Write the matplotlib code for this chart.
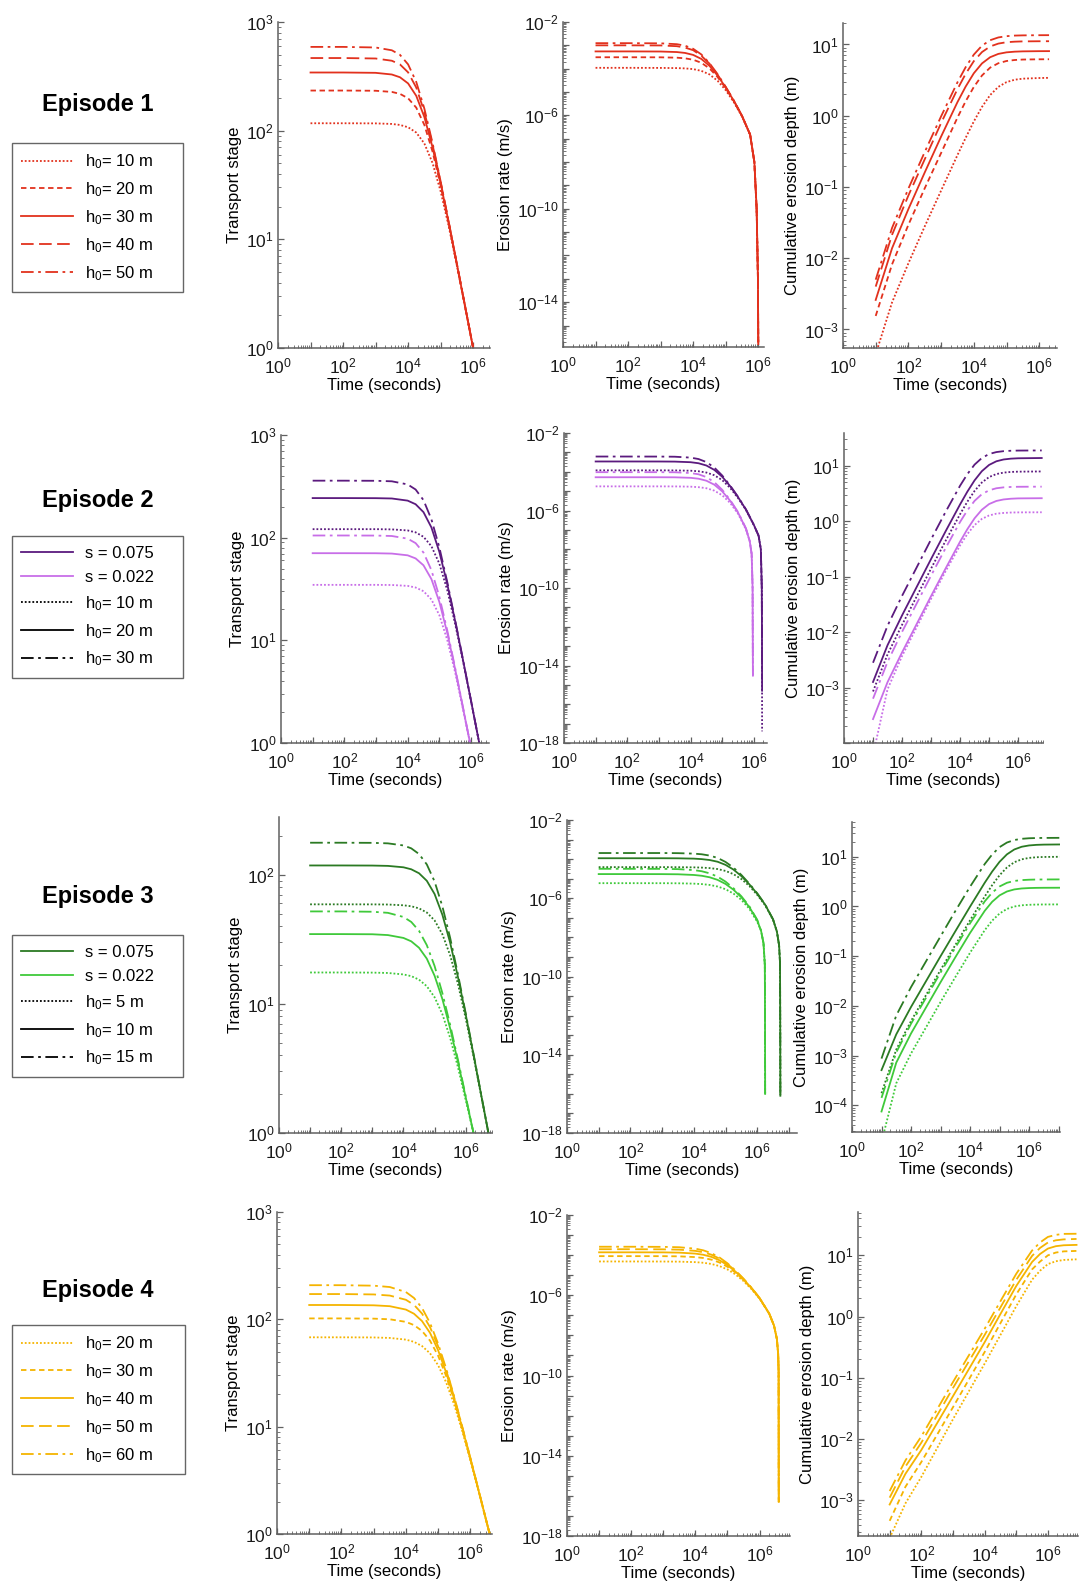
import numpy as np
import matplotlib
matplotlib.use("Agg")
import matplotlib.pyplot as plt
from matplotlib.ticker import FixedLocator, LogLocator, FuncFormatter, NullFormatter
from matplotlib.lines import Line2D

plt.rcParams["font.family"] = ["Liberation Sans", "DejaVu Sans"]
plt.rcParams["mathtext.fontset"] = "custom"
plt.rcParams["mathtext.rm"] = "Liberation Sans"
plt.rcParams["mathtext.it"] = "Liberation Sans:italic"
plt.rcParams["mathtext.bf"] = "Liberation Sans:bold"

# ================= Episode 1 (h0 = 10..50 m) =================
e1_time_T = [10, 1e2, 1e3, 3.16e3, 5.62e3, 1e4, 1.78e4, 3.16e4, 5.62e4, 1e5, 1.78e5, 3.16e5, 5.62e5, 1e6]
e1_T_h10 = [117, 117, 116.7, 115.3, 112.9, 107.5, 96.1, 76.3, 50.6, 27.7, 13.1, 5.74, 2.41, 1.0]
e1_T_h20 = [234, 234, 233, 227.3, 218.2, 198.7, 163, 113.1, 64.5, 31.4, 13.9, 5.88, 2.43, 1.0]
e1_T_h30 = [343, 343, 340.6, 328.8, 310.2, 272.2, 209.3, 133.7, 70.7, 32.8, 14.2, 5.93, 2.44, 1.0]
e1_T_h40 = [466, 466, 461.5, 440.1, 407.3, 344.2, 249.5, 149, 74.8, 33.7, 14.3, 5.96, 2.44, 1.0]
e1_T_h50 = [590, 590, 582.8, 549.2, 499, 407.5, 281.1, 159.7, 77.4, 34.2, 14.4, 5.97, 2.45, 1.0]

e1_time_E = [10, 1e2, 1e3, 3.16e3, 5.62e3, 1e4, 1.78e4, 3.16e4, 5.62e4, 1e5, 1.78e5, 3.16e5,
             5.62e5, 7.59e5, 8.91e5, 9.77e5, 1e6]
e1_E_h10 = [1.09e-4, 1.09e-4, 1.08e-4, 1.06e-4, 1.03e-4, 9.6e-5, 8.07e-5, 5.7e-5, 3.04e-5, 1.2e-5, 3.66e-6,
            9.0e-7, 1.5e-7, 1e-8, 1e-10, 1e-13, 1.6e-16]
e1_E_h20 = [3.09e-4, 3.09e-4, 3.07e-4, 2.96e-4, 2.78e-4, 2.42e-4, 1.79e-4, 1.03e-4, 4.4e-5, 1.46e-5, 4.03e-6,
            9.4e-7, 1.5e-7, 1e-8, 1e-10, 1e-13, 1.6e-16]
e1_E_h30 = [5.5e-4, 5.5e-4, 5.44e-4, 5.16e-4, 4.73e-4, 3.89e-4, 2.62e-4, 1.33e-4, 5.06e-5, 1.56e-5, 4.17e-6,
            9.5e-7, 1.5e-7, 1e-8, 1e-10, 1e-13, 1.6e-16]
e1_E_h40 = [1.0e-3, 1.0e-3, 9.9e-4, 9.2e-4, 8.0e-4, 6.2e-4, 3.58e-4, 1.65e-4, 5.5e-5, 1.63e-5, 4.2e-6,
            9.6e-7, 1.5e-7, 1e-8, 1e-10, 1e-13, 1.6e-16]
e1_E_h50 = [1.24e-3, 1.24e-3, 1.22e-3, 1.12e-3, 9.67e-4, 7.1e-4, 4.08e-4, 1.74e-4, 5.81e-5, 1.66e-5, 4.27e-6,
            9.6e-7, 1.5e-7, 1e-8, 1e-10, 1e-13, 1.6e-16]

e1_time_D = [10, 31.6, 1e2, 316, 1e3, 3.16e3, 5.62e3, 1e4, 1.78e4, 3.16e4, 5.62e4, 1e5, 1.78e5, 3.16e5, 1e6, 2e6]
e1_D_h10 = [4.5e-4, 2.4e-3, 8.5e-3, 0.028, 0.089, 0.28, 0.488, 0.83, 1.33, 1.95, 2.54, 2.96, 3.2, 3.31, 3.38, 3.4]
e1_D_h20 = [1.55e-3, 8.2e-3, 0.0295, 0.096, 0.30, 0.94, 1.59, 2.53, 3.67, 4.73, 5.45, 5.86, 6.05, 6.14, 6.19, 6.2]
e1_D_h30 = [2.6e-3, 0.0138, 0.049, 0.16, 0.51, 1.55, 2.56, 3.94, 5.42, 6.62, 7.37, 7.75, 7.92, 8.0, 8.05, 8.06]
e1_D_h40 = [4e-3, 0.0213, 0.076, 0.245, 0.79, 2.36, 3.86, 5.83, 7.82, 9.37, 10.28, 10.75, 10.94, 11.04, 11.09, 11.1]
e1_D_h50 = [5e-3, 0.0266, 0.095, 0.31, 0.98, 2.94, 4.79, 7.2, 9.62, 11.47, 12.54, 13.07, 13.32, 13.41, 13.48, 13.5]

# ================= Episode 2 (s = 0.075 / 0.022, h0 = 10..30 m) =================
e2_time_T_dark = [10, 1e2, 1e3, 3.16e3, 1e4, 1.78e4, 3.16e4, 5.62e4, 1e5, 1.78e5, 3.16e5, 5.62e5, 1e6, 1.82e6]
e2_time_T_light = [10, 1e2, 1e3, 3.16e3, 1e4, 1.78e4, 3.16e4, 5.62e4, 1e5, 1.78e5, 3.16e5, 5.62e5, 9.33e5]
e2_T_dark_h10 = [121, 121, 121, 120.4, 117.6, 112.7, 102, 82.6, 55.9, 30.8, 14.4, 6.21, 2.56, 1.0]
e2_T_dark_h20 = [243, 243, 242.5, 240.8, 229.5, 211.7, 177.2, 125.8, 72.8, 35.3, 15.4, 6.38, 2.58, 1.0]
e2_T_dark_h30 = [359, 359, 358, 354, 330, 294.6, 232, 151, 80.5, 37.0, 15.7, 6.43, 2.59, 1.0]
e2_T_light_h10 = [34.7, 34.7, 34.7, 34.6, 33.9, 32.7, 30.1, 25.0, 17.6, 10.07, 4.86, 2.11, 1.0]
e2_T_light_h20 = [70.6, 70.6, 70.5, 70.0, 67.3, 62.8, 53.8, 39.5, 23.7, 11.8, 5.23, 2.18, 1.0]
e2_T_light_h30 = [105, 105, 104.8, 103.8, 97.8, 88.5, 71.6, 48.3, 26.6, 12.5, 5.36, 2.2, 1.0]

e2_time_E_dark = [10, 1e2, 1e3, 3.16e3, 1e4, 1.78e4, 3.16e4, 5.62e4, 1e5, 1.78e5, 3.16e5, 5.62e5, 1e6,
                  1.41e6, 1.66e6, 1.78e6, 1.81e6, 1.82e6]
e2_time_E_light = [10, 1e2, 1e3, 3.16e3, 1e4, 1.78e4, 3.16e4, 5.62e4, 1e5, 1.78e5, 3.16e5, 5.62e5,
                   7.41e5, 8.51e5, 9.12e5, 9.26e5, 9.33e5]
e2_E_dark_h10 = [1.18e-4, 1.18e-4, 1.18e-4, 1.17e-4, 1.13e-4, 1.06e-4, 9.1e-5, 6.6e-5, 3.7e-5, 1.46e-5, 4.4e-6,
                 1.07e-6, 1.75e-7, 5e-8, 1e-8, 1e-10, 1e-13, 4e-18]
e2_E_dark_h20 = [3.39e-4, 3.39e-4, 3.38e-4, 3.34e-4, 3.11e-4, 2.75e-4, 2.1e-4, 1.25e-4, 5.5e-5, 1.81e-5, 4.9e-6,
                 1.12e-6, 1.8e-7, 5e-8, 1e-8, 1e-10, 1e-13, 5e-16]
e2_E_dark_h30 = [6.1e-4, 6.1e-4, 6.07e-4, 5.97e-4, 5.37e-4, 4.53e-4, 3.16e-4, 1.65e-4, 6.4e-5, 1.94e-5, 5.1e-6,
                 1.14e-6, 1.8e-7, 5e-8, 1e-8, 1e-10, 1e-13, 2e-15]
e2_E_light_h10 = [1.76e-5, 1.76e-5, 1.76e-5, 1.75e-5, 1.7e-5, 1.6e-5, 1.41e-5, 1.06e-5, 6.1e-6, 2.46e-6, 6.8e-7,
                  1.05e-7, 2.6e-8, 5.7e-9, 1e-10, 1e-13, 3e-15]
e2_E_light_h20 = [5.2e-5, 5.2e-5, 5.2e-5, 5.16e-5, 4.86e-5, 4.37e-5, 3.45e-5, 2.15e-5, 9.7e-6, 3.2e-6, 7.8e-7,
                  1.15e-7, 2.6e-8, 5.7e-9, 1e-10, 1e-13, 3e-15]
e2_E_light_h30 = [9.5e-5, 9.5e-5, 9.5e-5, 9.4e-5, 8.6e-5, 7.4e-5, 5.3e-5, 2.9e-5, 1.17e-5, 3.5e-6, 8.2e-7,
                  1.2e-7, 2.6e-8, 5.7e-9, 1e-10, 1e-13, 3e-15]

e2_time_D = [10, 31.6, 1e2, 1e3, 3.16e3, 1e4, 1.78e4, 3.16e4, 5.62e4, 1e5, 1.78e5, 3.16e5, 5.62e5, 1e6, 6.5e6]
e2_D_dark_h10 = [8.5e-4, 3.95e-3, 0.0135, 0.14, 0.442, 1.34, 2.25, 3.52, 4.99, 6.26, 7.09, 7.53, 7.74, 7.83, 7.9]
e2_D_dark_h20 = [1.26e-3, 5.8e-3, 0.02, 0.208, 0.656, 2.01, 3.41, 5.46, 7.98, 10.36, 12.05, 12.99, 13.44, 13.65, 13.8]
e2_D_dark_h30 = [2.8e-3, 0.013, 0.045, 0.47, 1.47, 4.37, 7.06, 10.5, 13.8, 16.3, 17.66, 18.35, 18.66, 18.8, 18.9]
e2_D_light_h10 = [6.1e-5, 9.3e-4, 3.7e-3, 0.0398, 0.125, 0.367, 0.587, 0.853, 1.10, 1.27, 1.368, 1.41, 1.434, 1.443, 1.45]
e2_D_light_h20 = [2.7e-4, 1.25e-3, 4.3e-3, 0.0446, 0.140, 0.428, 0.718, 1.13, 1.61, 2.04, 2.32, 2.47, 2.544, 2.58, 2.6]
e2_D_light_h30 = [6.3e-4, 2.9e-3, 0.0101, 0.1045, 0.327, 0.97, 1.57, 2.33, 3.07, 3.61, 3.93, 4.08, 4.15, 4.18, 4.2]

# ================= Episode 3 (s = 0.075 / 0.022, h0 = 5..15 m) =================
e3_time_T_dark = [10, 1e2, 1e3, 3.16e3, 1e4, 1.78e4, 3.16e4, 5.62e4, 1e5, 1.78e5, 3.16e5, 5.62e5, 1e6,
                  1.78e6, 3.16e6, 5.37e6]
e3_time_T_light = [10, 1e2, 1e3, 3.16e3, 1e4, 1.78e4, 3.16e4, 5.62e4, 1e5, 1.78e5, 3.16e5, 5.62e5, 1e6, 1.78e6]
e3_T_dark_h5 = [59, 59, 58.95, 58.8, 58.0, 57.0, 54.9, 51.0, 44.3, 34.6, 23.8, 14.3, 7.72, 3.93, 1.93, 1.0]
e3_T_dark_h10 = [118, 118, 117.8, 117.1, 114.2, 110.2, 102.7, 89.8, 70.9, 49.0, 29.8, 16.2, 8.27, 4.06, 1.96, 1.0]
e3_T_dark_h15 = [177, 177, 176.6, 175, 168.6, 160.1, 144.7, 120.2, 88.7, 56.9, 32.5, 17.0, 8.46, 4.11, 1.97, 1.0]
e3_T_light_h5 = [17.5, 17.5, 17.46, 17.35, 16.9, 16.4, 15.4, 13.7, 11.26, 8.32, 5.46, 3.24, 1.8, 1.0]
e3_T_light_h10 = [34.7, 34.7, 34.6, 34.1, 32.4, 30.5, 27.2, 22.4, 16.5, 10.9, 6.46, 3.57, 1.89, 1.0]
e3_T_light_h15 = [52, 52, 51.7, 50.7, 47.1, 43.1, 36.8, 28.5, 19.65, 12.1, 6.89, 3.7, 1.93, 1.0]

e3_time_E_dark = [10, 1e2, 1e3, 3.16e3, 1e4, 1.78e4, 3.16e4, 5.62e4, 1e5, 1.78e5, 3.16e5, 5.62e5, 1e6, 1.78e6,
                  3.16e6, 4.17e6, 4.9e6, 5.25e6, 5.34e6, 5.37e6]
e3_time_E_light = [10, 1e2, 1e3, 3.16e3, 1e4, 1.78e4, 3.16e4, 5.62e4, 1e5, 1.78e5, 3.16e5, 5.62e5, 1e6,
                   1.32e6, 1.58e6, 1.74e6, 1.77e6, 1.78e6]
e3_E_dark_h5 = [3.9e-5, 3.9e-5, 3.9e-5, 3.87e-5, 3.79e-5, 3.69e-5, 3.48e-5, 3.11e-5, 2.5e-5, 1.71e-5, 9.6e-6,
                4.27e-6, 1.5e-6, 4.4e-7, 7.9e-8, 2e-8, 4e-9, 4.6e-10, 1e-13, 8e-17]
e3_E_dark_h10 = [1.11e-4, 1.11e-4, 1.11e-4, 1.1e-4, 1.06e-4, 1.0e-4, 9.0e-5, 7.36e-5, 5.1e-5, 2.93e-5, 1.36e-5,
                 5.2e-6, 1.7e-6, 4.7e-7, 8.3e-8, 2e-8, 4e-9, 4.6e-10, 1e-13, 8e-17]
e3_E_dark_h15 = [2.05e-4, 2.05e-4, 2.05e-4, 2.02e-4, 1.91e-4, 1.77e-4, 1.52e-4, 1.15e-4, 7.2e-5, 3.68e-5, 1.56e-5,
                 5.6e-6, 1.8e-6, 4.8e-7, 8.4e-8, 2e-8, 4e-9, 4.6e-10, 1e-13, 8e-17]
e3_E_light_h5 = [5.9e-6, 5.9e-6, 5.88e-6, 5.82e-6, 5.58e-6, 5.3e-6, 4.8e-6, 3.98e-6, 2.9e-6, 1.74e-6, 8.3e-7,
                 2.95e-7, 6.3e-8, 2.2e-8, 5e-9, 4e-10, 1e-13, 1e-16]
e3_E_light_h10 = [1.72e-5, 1.72e-5, 1.71e-5, 1.68e-5, 1.55e-5, 1.41e-5, 1.18e-5, 8.7e-6, 5.4e-6, 2.74e-6, 1.12e-6,
                  3.6e-7, 7.4e-8, 2.2e-8, 5e-9, 4e-10, 1e-13, 1e-16]
e3_E_light_h15 = [3.2e-5, 3.2e-5, 3.18e-5, 3.08e-5, 2.75e-5, 2.4e-5, 1.88e-5, 1.27e-5, 7.1e-6, 3.25e-6, 1.26e-6,
                  3.9e-7, 7.9e-8, 2.2e-8, 5e-9, 4e-10, 1e-13, 1e-16]

e3_time_D = [10, 31.6, 1e2, 1e3, 3.16e3, 1e4, 3.16e4, 5.62e4, 1e5, 1.78e5, 3.16e5, 5.62e5, 1e6, 1.78e6, 3.16e6, 1.1e7]
e3_D_dark_h5 = [1.75e-4, 1.32e-3, 4.94e-3, 0.0526, 0.1666, 0.525, 1.59, 2.68, 4.24, 6.09, 7.75, 8.87, 9.48, 9.77, 9.9, 9.98]
e3_D_dark_h10 = [5.1e-4, 2.67e-3, 9.5e-3, 0.0995, 0.315, 0.99, 3.01, 5.03, 7.9, 11.17, 14.0, 15.88, 16.87, 17.34, 17.54, 17.67]
e3_D_dark_h15 = [8.7e-4, 6.4e-3, 0.0238, 0.25, 0.804, 2.49, 7.16, 11.1, 15.6, 19.3, 21.7, 22.96, 23.55, 23.8, 23.92, 24.0]
e3_D_light_h5 = [1.8e-5, 2.77e-4, 1.1e-3, 0.0119, 0.0377, 0.117, 0.334, 0.518, 0.72, 0.891, 0.998, 1.054, 1.08, 1.091, 1.096, 1.1]
e3_D_light_h10 = [7.5e-5, 7.2e-4, 2.78e-3, 0.0298, 0.0944, 0.292, 0.819, 1.24, 1.67, 2.0, 2.2, 2.3, 2.345, 2.365, 2.374, 2.38]
e3_D_light_h15 = [1.41e-4, 1.16e-3, 4.37e-3, 0.0467, 0.148, 0.457, 1.27, 1.895, 2.52, 2.99, 3.26, 3.39, 3.45, 3.48, 3.49, 3.5]

# ================= Episode 4 (h0 = 20..60 m) =================
e4_time_T = [10, 1e2, 1e3, 3.16e3, 1e4, 1.78e4, 3.16e4, 5.62e4, 1e5, 1.78e5, 3.16e5, 5.62e5, 1e6, 2e6, 3.98e6]
e4_T_h20 = [68, 68, 67.8, 67.1, 64.7, 61.7, 56.4, 48.2, 37.4, 25.8, 16.0, 9.07, 4.87, 2.22, 1.0]
e4_T_h30 = [102, 102, 101.5, 100.1, 94.7, 88.4, 78.0, 63.2, 45.8, 29.6, 17.4, 9.5, 4.99, 2.24, 1.0]
e4_T_h40 = [136, 136, 135.1, 132.6, 123.3, 112.8, 96.4, 74.7, 51.5, 31.9, 18.1, 9.72, 5.05, 2.25, 1.0]
e4_T_h50 = [172, 172, 170.6, 166.5, 152.1, 136.5, 113.2, 84.5, 56.0, 33.6, 18.65, 9.87, 5.09, 2.26, 1.0]
e4_T_h60 = [208, 208, 205.9, 200, 179.6, 158.2, 127.7, 92.3, 59.3, 34.7, 19.0, 9.97, 5.12, 2.26, 1.0]

e4_time_E = [10, 1e2, 1e3, 3.16e3, 1e4, 1.78e4, 3.16e4, 5.62e4, 1e5, 1.78e5, 3.16e5, 5.62e5, 1e6, 2e6,
             2.82e6, 3.47e6, 3.8e6, 3.94e6, 3.98e6]
e4_E_h20 = [4.83e-5, 4.83e-5, 4.8e-5, 4.73e-5, 4.47e-5, 4.16e-5, 3.63e-5, 2.85e-5, 1.93e-5, 1.09e-5, 5.1e-6,
            2.02e-6, 6.7e-7, 1.19e-7, 3.1e-8, 6.7e-9, 1.2e-9, 1.5e-10, 5e-17]
e4_E_h30 = [8.9e-5, 8.9e-5, 8.87e-5, 8.68e-5, 7.98e-5, 7.19e-5, 5.95e-5, 4.32e-5, 2.64e-5, 1.35e-5, 5.8e-6,
            2.18e-6, 7.0e-7, 1.21e-7, 3.1e-8, 6.7e-9, 1.2e-9, 1.5e-10, 5e-17]
e4_E_h40 = [1.38e-4, 1.38e-4, 1.37e-4, 1.33e-4, 1.19e-4, 1.04e-4, 8.2e-5, 5.57e-5, 3.16e-5, 1.51e-5, 6.2e-6,
            2.27e-6, 7.2e-7, 1.23e-7, 3.1e-8, 6.7e-9, 1.2e-9, 1.5e-10, 5e-17]
e4_E_h50 = [1.97e-4, 1.97e-4, 1.94e-4, 1.87e-4, 1.63e-4, 1.39e-4, 1.05e-4, 6.71e-5, 3.59e-5, 1.64e-5, 6.5e-6,
            2.33e-6, 7.3e-7, 1.24e-7, 3.1e-8, 6.7e-9, 1.2e-9, 1.5e-10, 5e-17]
e4_E_h60 = [2.62e-4, 2.62e-4, 2.58e-4, 2.47e-4, 2.1e-4, 1.73e-4, 1.25e-4, 7.68e-5, 3.92e-5, 1.72e-5, 6.7e-6,
            2.36e-6, 7.4e-7, 1.24e-7, 3.1e-8, 6.7e-9, 1.2e-9, 1.5e-10, 5e-17]

e4_time_D = [10, 31.6, 1e2, 1e3, 1e4, 3.16e4, 1e5, 3.16e5, 5.62e5, 1e6, 1.78e6, 3.16e6, 8e6]
e4_D_h20 = [2.4e-4, 8.9e-4, 2.4e-3, 0.021, 0.17, 0.5, 1.48, 4.0, 5.6, 7.2, 8.0, 8.4, 8.6]
e4_D_h30 = [4.6e-4, 1.66e-3, 4.2e-3, 0.033, 0.263, 0.78, 2.3, 5.9, 7.9, 10.0, 11.1, 11.6, 11.8]
e4_D_h40 = [8.5e-4, 2.7e-3, 6.6e-3, 0.05, 0.38, 1.1, 3.16, 7.8, 10.5, 12.9, 14.1, 14.6, 14.8]
e4_D_h50 = [1.1e-3, 3.55e-3, 8.7e-3, 0.068, 0.5, 1.41, 3.98, 9.8, 13.2, 16.2, 17.6, 18.2, 18.5]
e4_D_h60 = [1.41e-3, 4.47e-3, 0.011, 0.085, 0.63, 1.78, 5.0, 12.0, 16.2, 20.0, 21.6, 22.4, 22.5]

# ---------------- styles ----------------
RED = "#e2311d"
PURPLE_D = "#5b1a7e"
PURPLE_L = "#c86ee8"
GREEN_D = "#2b7a23"
GREEN_L = "#3fc93a"
YELLOW = "#f5b400"

DOT = (0, (1, 1.1))
SDASH = (0, (3, 2))
LDASH = (0, (7, 3))
DDOT = (0, (7, 2.5, 1.5, 2.5))
LW = 1.3

W, H = 1091, 1583
fig = plt.figure(figsize=(W / 100, H / 100), dpi=100)


def px_box(x0, y0, x1, y1):
    return [x0 / W, 1 - y1 / H, (x1 - x0) / W, (y1 - y0) / H]


def exp_label(exps):
    def f(v, pos):
        e = int(round(np.log10(v)))
        return r"$\mathregular{10^{%d}}$" % e if e in exps else ""
    return f


def make_ax(box, xmax, ylim, ylabel, yexps):
    ax = fig.add_axes(px_box(*box))
    ax.set_xscale("log")
    ax.set_yscale("log")
    ax.set_xlim(1, xmax)
    ax.set_ylim(*ylim)
    for s in ["top", "right"]:
        ax.spines[s].set_visible(False)
    for s in ["left", "bottom"]:
        ax.spines[s].set_color("#606060")
        ax.spines[s].set_linewidth(1.1)
    ax.xaxis.set_major_locator(FixedLocator(10.0 ** np.arange(0, 9)))
    ax.xaxis.set_major_formatter(FuncFormatter(exp_label([0, 2, 4, 6])))
    ax.xaxis.set_minor_locator(LogLocator(base=10, subs=np.arange(2, 10), numticks=200))
    ax.xaxis.set_minor_formatter(NullFormatter())
    ax.yaxis.set_major_locator(FixedLocator(10.0 ** np.arange(-20, 5)))
    ax.yaxis.set_major_formatter(FuncFormatter(exp_label(yexps)))
    ax.yaxis.set_minor_locator(LogLocator(base=10, subs=np.arange(2, 10), numticks=200))
    ax.yaxis.set_minor_formatter(NullFormatter())
    ax.tick_params(which="both", direction="in", color="#606060", labelsize=12.5,
                   labelcolor="#1a1a1a")
    ax.tick_params(axis="x", which="major", pad=6)
    ax.tick_params(axis="y", which="major", pad=3)
    ax.tick_params(which="major", length=4, width=0.9)
    ax.tick_params(which="minor", length=2, width=0.6)
    ax.set_xlabel("Time (seconds)", fontsize=12, labelpad=1)
    ax.set_ylabel(ylabel, fontsize=12, labelpad=3)
    return ax


def draw(ax, series):
    for t, v, c, ls in series:
        ax.plot(t, v, color=c, ls=ls, lw=LW)


def add_legend(box, handles, labels):
    lax = fig.add_axes(px_box(*box))
    lax.axis("off")
    leg = lax.legend(handles, labels, loc="center", mode="expand",
                     bbox_to_anchor=(0, 0, 1, 1), borderaxespad=0, frameon=True,
                     fancybox=False, edgecolor="#404040", fontsize=12,
                     handlelength=3.1, handletextpad=0.75, labelspacing=0.55,
                     borderpad=0.55)
    leg.get_frame().set_linewidth(1.0)


def h(c, ls):
    return Line2D([0], [0], color=c, ls=ls, lw=LW)


def title(y, text):
    fig.text(98 / W, 1 - y / H, text, ha="center", va="center", fontsize=17, fontweight="bold")


TS = "Transport stage"
ER = "Erosion rate (m/s)"
CD = "Cumulative erosion depth (m)"
E_EXPS = [-2, -6, -10, -14, -18]

# ---------------- Episode 1 ----------------
ax = make_ax((278, 22, 490, 348), 3.3e6, (1, 1000), TS, [0, 1, 2, 3])
draw(ax, [(e1_time_T, e1_T_h10, RED, DOT), (e1_time_T, e1_T_h20, RED, SDASH),
          (e1_time_T, e1_T_h30, RED, "-"), (e1_time_T, e1_T_h40, RED, LDASH),
          (e1_time_T, e1_T_h50, RED, DDOT)])
ax = make_ax((563, 22, 764, 347), 1.5e6, (1.2e-16, 1e-2), ER, E_EXPS)
draw(ax, [(e1_time_E, e1_E_h10, RED, DOT), (e1_time_E, e1_E_h20, RED, SDASH),
          (e1_time_E, e1_E_h30, RED, "-"), (e1_time_E, e1_E_h40, RED, LDASH),
          (e1_time_E, e1_E_h50, RED, DDOT)])
ax = make_ax((843, 23, 1057, 348), 3.5e6, (5.5e-4, 20), CD, [-3, -2, -1, 0, 1])
draw(ax, [(e1_time_D, e1_D_h10, RED, DOT), (e1_time_D, e1_D_h20, RED, SDASH),
          (e1_time_D, e1_D_h30, RED, "-"), (e1_time_D, e1_D_h40, RED, LDASH),
          (e1_time_D, e1_D_h50, RED, DDOT)])
title(105, "Episode 1")
add_legend((12, 146, 183, 289),
           [h(RED, DOT), h(RED, SDASH), h(RED, "-"), h(RED, LDASH), h(RED, DDOT)],
           [r"h$_0$= 10 m", r"h$_0$= 20 m", r"h$_0$= 30 m", r"h$_0$= 40 m", r"h$_0$= 50 m"])

# ---------------- Episode 2 ----------------
ax = make_ax((281, 435, 489, 743), 3.7e6, (1, 1000), TS, [0, 1, 2, 3])
draw(ax, [(e2_time_T_dark, e2_T_dark_h10, PURPLE_D, DOT), (e2_time_T_dark, e2_T_dark_h20, PURPLE_D, "-"),
          (e2_time_T_dark, e2_T_dark_h30, PURPLE_D, DDOT),
          (e2_time_T_light, e2_T_light_h10, PURPLE_L, DOT), (e2_time_T_light, e2_T_light_h20, PURPLE_L, "-"),
          (e2_time_T_light, e2_T_light_h30, PURPLE_L, DDOT)])
ax = make_ax((564, 433, 767, 743), 2.6e6, (1e-18, 1e-2), ER, E_EXPS)
draw(ax, [(e2_time_E_dark, e2_E_dark_h10, PURPLE_D, DOT), (e2_time_E_dark, e2_E_dark_h20, PURPLE_D, "-"),
          (e2_time_E_dark, e2_E_dark_h30, PURPLE_D, DDOT),
          (e2_time_E_light, e2_E_light_h10, PURPLE_L, DOT), (e2_time_E_light, e2_E_light_h20, PURPLE_L, "-"),
          (e2_time_E_light, e2_E_light_h30, PURPLE_L, DDOT)])
ax = make_ax((844, 433, 1043, 743), 7.2e6, (1.0e-4, 39), CD, [-3, -2, -1, 0, 1])
draw(ax, [(e2_time_D, e2_D_dark_h10, PURPLE_D, DOT), (e2_time_D, e2_D_dark_h20, PURPLE_D, "-"),
          (e2_time_D, e2_D_dark_h30, PURPLE_D, DDOT),
          (e2_time_D, e2_D_light_h10, PURPLE_L, DOT), (e2_time_D, e2_D_light_h20, PURPLE_L, "-"),
          (e2_time_D, e2_D_light_h30, PURPLE_L, DDOT)])
title(500, "Episode 2")
add_legend((12, 536, 183, 678),
           [h(PURPLE_D, "-"), h(PURPLE_L, "-"), h("black", DOT), h("black", "-"), h("black", DDOT)],
           ["s = 0.075", "s = 0.022", r"h$_0$= 10 m", r"h$_0$= 20 m", r"h$_0$= 30 m"])

# ---------------- Episode 3 ----------------
ax = make_ax((279, 817, 492, 1133), 7e6, (1, 280), TS, [0, 1, 2])
draw(ax, [(e3_time_T_dark, e3_T_dark_h5, GREEN_D, DOT), (e3_time_T_dark, e3_T_dark_h10, GREEN_D, "-"),
          (e3_time_T_dark, e3_T_dark_h15, GREEN_D, DDOT),
          (e3_time_T_light, e3_T_light_h5, GREEN_L, DOT), (e3_time_T_light, e3_T_light_h10, GREEN_L, "-"),
          (e3_time_T_light, e3_T_light_h15, GREEN_L, DDOT)])
ax = make_ax((567, 820, 797, 1133), 1.8e7, (1e-18, 1e-2), ER, E_EXPS)
draw(ax, [(e3_time_E_dark, e3_E_dark_h5, GREEN_D, DOT), (e3_time_E_dark, e3_E_dark_h10, GREEN_D, "-"),
          (e3_time_E_dark, e3_E_dark_h15, GREEN_D, DDOT),
          (e3_time_E_light, e3_E_light_h5, GREEN_L, DOT), (e3_time_E_light, e3_E_light_h10, GREEN_L, "-"),
          (e3_time_E_light, e3_E_light_h15, GREEN_L, DDOT)])
ax = make_ax((852, 822, 1060, 1132), 1.12e7, (2.9e-5, 50), CD, [-4, -3, -2, -1, 0, 1])
draw(ax, [(e3_time_D, e3_D_dark_h5, GREEN_D, DOT), (e3_time_D, e3_D_dark_h10, GREEN_D, "-"),
          (e3_time_D, e3_D_dark_h15, GREEN_D, DDOT),
          (e3_time_D, e3_D_light_h5, GREEN_L, DOT), (e3_time_D, e3_D_light_h10, GREEN_L, "-"),
          (e3_time_D, e3_D_light_h15, GREEN_L, DDOT)])
title(896, "Episode 3")
add_legend((12, 935, 183, 1077),
           [h(GREEN_D, "-"), h(GREEN_L, "-"), h("black", DOT), h("black", "-"), h("black", DDOT)],
           ["s = 0.075", "s = 0.022", r"h$_0$= 5 m", r"h$_0$= 10 m", r"h$_0$= 15 m"])

# ---------------- Episode 4 ----------------
ax = make_ax((277, 1212, 492, 1534), 4.7e6, (1, 1000), TS, [0, 1, 2, 3])
draw(ax, [(e4_time_T, e4_T_h20, YELLOW, DOT), (e4_time_T, e4_T_h30, YELLOW, SDASH),
          (e4_time_T, e4_T_h40, YELLOW, "-"), (e4_time_T, e4_T_h50, YELLOW, LDASH),
          (e4_time_T, e4_T_h60, YELLOW, DDOT)])
ax = make_ax((567, 1215, 790, 1536), 8.9e6, (1e-18, 1e-2), ER, E_EXPS)
draw(ax, [(e4_time_E, e4_E_h20, YELLOW, DOT), (e4_time_E, e4_E_h30, YELLOW, SDASH),
          (e4_time_E, e4_E_h40, YELLOW, "-"), (e4_time_E, e4_E_h50, YELLOW, LDASH),
          (e4_time_E, e4_E_h60, YELLOW, DDOT)])
ax = make_ax((858, 1212, 1078, 1536), 8.9e6, (2.6e-4, 51), CD, [-3, -2, -1, 0, 1])
draw(ax, [(e4_time_D, e4_D_h20, YELLOW, DOT), (e4_time_D, e4_D_h30, YELLOW, SDASH),
          (e4_time_D, e4_D_h40, YELLOW, "-"), (e4_time_D, e4_D_h50, YELLOW, LDASH),
          (e4_time_D, e4_D_h60, YELLOW, DDOT)])
title(1290, "Episode 4")
add_legend((12, 1328, 185, 1471),
           [h(YELLOW, DOT), h(YELLOW, SDASH), h(YELLOW, "-"), h(YELLOW, LDASH), h(YELLOW, DDOT)],
           [r"h$_0$= 20 m", r"h$_0$= 30 m", r"h$_0$= 40 m", r"h$_0$= 50 m", r"h$_0$= 60 m"])

fig.savefig("out.png", dpi=100)
